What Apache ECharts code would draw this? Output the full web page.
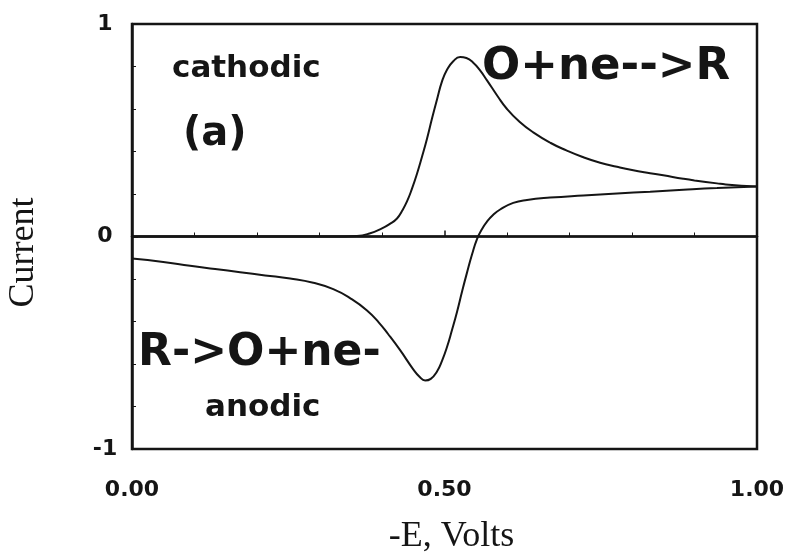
<!DOCTYPE html>
<html>
<head>
<meta charset="utf-8">
<script src="https://cdn.jsdelivr.net/npm/echarts@6/dist/echarts.min.js"></script>
<style>
  html, body { margin: 0; padding: 0; background: #fff; }
  #chart { width: 790px; height: 556px; }
</style>
</head>
<body>
<div id="chart"></div>
<script>
// Cyclic voltammogram: forward (cathodic) and return (anodic) sweeps
const forwardE = [0, 0.1, 0.2, 0.3, 0.34, 0.36, 0.38, 0.40, 0.412, 0.424, 0.432, 0.44, 0.448, 0.456, 0.464, 0.472, 0.48, 0.488, 0.496, 0.504, 0.514, 0.525, 0.535, 0.546, 0.556, 0.568, 0.585, 0.60, 0.62, 0.642, 0.67, 0.695, 0.72, 0.749, 0.776, 0.80, 0.829, 0.85, 0.882, 0.90, 0.936, 0.95, 1.0];
const forwardI = [0, 0, 0, 0, 0, 0.002, 0.014, 0.038, 0.058, 0.085, 0.12, 0.165, 0.225, 0.295, 0.375, 0.46, 0.555, 0.645, 0.73, 0.785, 0.825, 0.845, 0.84, 0.818, 0.785, 0.735, 0.66, 0.60, 0.54, 0.49, 0.44, 0.405, 0.375, 0.347, 0.328, 0.313, 0.298, 0.288, 0.272, 0.264, 0.25, 0.245, 0.235];

const returnE = [0, 0.05, 0.093, 0.133, 0.173, 0.213, 0.253, 0.29, 0.322, 0.35, 0.376, 0.395, 0.41, 0.429, 0.45, 0.46, 0.469, 0.478, 0.488, 0.496, 0.504, 0.512, 0.52, 0.528, 0.536, 0.544, 0.552, 0.56, 0.568, 0.578, 0.589, 0.61, 0.632, 0.669, 0.722, 0.776, 0.829, 0.882, 0.936, 1.0];
const returnI = [-0.104, -0.12, -0.138, -0.153, -0.168, -0.183, -0.198, -0.218, -0.248, -0.292, -0.348, -0.405, -0.46, -0.535, -0.625, -0.66, -0.678, -0.67, -0.635, -0.585, -0.52, -0.44, -0.355, -0.26, -0.17, -0.085, -0.012, 0.035, 0.07, 0.102, 0.127, 0.158, 0.172, 0.183, 0.193, 0.202, 0.211, 0.22, 0.228, 0.235];

const baselineE = [0, 1];
const baselineI = [0, 0];

const xTickLabels = { 0: '0.00', 0.5: '0.50', 1: '1.00' };
const yTickLabels = { '-1': '-1', 0: '0', 1: '1' };

const pairs = (xs, ys) => xs.map((x, i) => [x, ys[i]]);

const labelFont = 'DejaVu Sans';
const ink = '#151515';

const chart = echarts.init(document.getElementById('chart'), null, { renderer: 'canvas' });

const annotations = [
  { text: 'cathodic', x: 172, y: 69, size: 31 },
  { text: '(a)', x: 183, y: 135, size: 40 },
  { text: 'O+ne-->R', x: 482, y: 67, size: 45 },
  { text: 'R->O+ne-', x: 138, y: 354, size: 44 },
  { text: 'anodic', x: 205, y: 408, size: 31 }
];

const curveStyle = { color: ink, width: 2 };

chart.setOption({
  animation: false,
  backgroundColor: '#fff',
  grid: {
    left: 132, right: 33, top: 24, bottom: 107,
    outerBoundsMode: 'none', containLabel: false,
    show: true, borderColor: ink, borderWidth: 2.5, backgroundColor: 'transparent'
  },
  xAxis: {
    type: 'value', min: 0, max: 1, interval: 0.5,
    name: '-E, Volts', nameLocation: 'middle', nameGap: 70,
    nameTextStyle: { fontFamily: 'Liberation Serif', fontSize: 36, color: ink, verticalAlign: 'top', padding: [0, 0, 0, 14] },
    axisLine: { show: true, lineStyle: { color: ink, width: 2.5 } },
    axisTick: { show: true, inside: true, length: 6, lineStyle: { color: ink, width: 1.5 } },
    minorTick: { show: true, splitNumber: 5, length: 4, lineStyle: { color: ink, width: 1 } },
    splitLine: { show: false },
    axisLabel: {
      margin: 30, fontFamily: labelFont, fontWeight: 'bold', fontSize: 22, color: ink,
      formatter: v => xTickLabels[v] !== undefined ? xTickLabels[v] : ''
    }
  },
  yAxis: {
    type: 'value', min: -1, max: 1, interval: 1,
    name: 'Current', nameLocation: 'middle', nameGap: 90, nameRotate: 90,
    nameTextStyle: { fontFamily: 'Liberation Serif', fontSize: 36, color: ink, padding: [0, 32, 0, 0] },
    axisLine: { show: true, lineStyle: { color: ink, width: 2.5 } },
    axisTick: { show: true, inside: true, length: 6, lineStyle: { color: ink, width: 1.5 } },
    minorTick: { show: true, splitNumber: 5, length: 4, lineStyle: { color: ink, width: 1 } },
    splitLine: { show: false },
    axisLabel: {
      margin: 27, align: 'center', fontFamily: labelFont, fontWeight: 'bold', fontSize: 22, color: ink,
      formatter: v => yTickLabels[v] !== undefined ? yTickLabels[v] : ''
    }
  },
  series: [
    {
      name: 'baseline', type: 'line', data: pairs(baselineE, baselineI),
      showSymbol: false, lineStyle: { color: ink, width: 2 }, silent: true
    },
    {
      name: 'cathodic sweep', type: 'line', data: pairs(forwardE, forwardI),
      smooth: 0.5, showSymbol: false, lineStyle: curveStyle
    },
    {
      name: 'anodic sweep', type: 'line', data: pairs(returnE, returnI),
      smooth: 0.5, showSymbol: false, lineStyle: curveStyle
    }
  ],
  graphic: annotations.map(a => ({
    type: 'text', x: a.x, y: a.y, silent: true,
    style: {
      text: a.text, fill: ink, font: `bold ${a.size}px "${labelFont}"`,
      textAlign: 'left', textVerticalAlign: 'middle'
    }
  }))
});
</script>
</body>
</html>
